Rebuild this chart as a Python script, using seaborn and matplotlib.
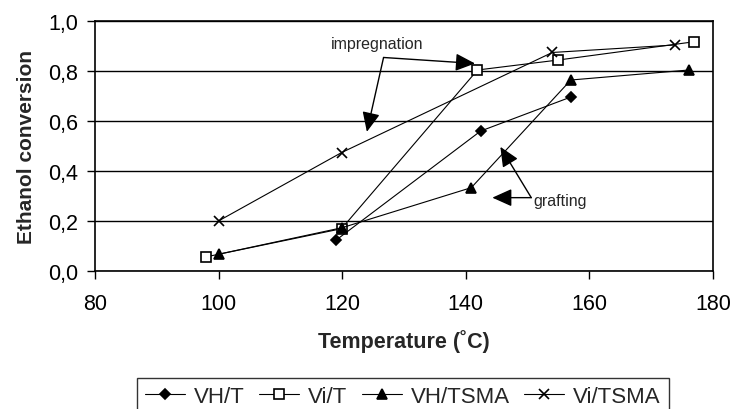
import matplotlib
matplotlib.use("Agg")
import matplotlib.pyplot as plt
import seaborn as sns
import pandas as pd
from matplotlib.ticker import FuncFormatter, MultipleLocator

sns.set_theme(style="white")
plt.rcParams['font.family'] = ['Liberation Sans', 'DejaVu Sans']

# Data
vh_t_x = [119.0, 142.4, 157.0]
vh_t_y = [0.123, 0.559, 0.695]
vi_t_x = [97.9, 119.9, 141.9, 155.0, 177.0]
vi_t_y = [0.056, 0.169, 0.803, 0.843, 0.916]
vh_tsma_x = [100.0, 120.0, 140.9, 157.0, 176.1]
vh_tsma_y = [0.067, 0.173, 0.333, 0.763, 0.803]
vi_tsma_x = [100.0, 119.9, 154.0, 173.9]
vi_tsma_y = [0.200, 0.473, 0.873, 0.903]

series_names = ["VH/T", "Vi/T", "VH/TSMA", "Vi/TSMA"]
xs = [vh_t_x, vi_t_x, vh_tsma_x, vi_tsma_x]
ys = [vh_t_y, vi_t_y, vh_tsma_y, vi_tsma_y]

frames = []
for name, x, y in zip(series_names, xs, ys):
    frames.append(pd.DataFrame({"T": x, "conv": y, "series": name}))
df = pd.concat(frames, ignore_index=True)

styles = {
    "VH/T": dict(marker="D", mfc="black", ms=6.5),
    "Vi/T": dict(marker="s", mfc="white", ms=8),
    "VH/TSMA": dict(marker="^", mfc="black", ms=8.5),
    "Vi/TSMA": dict(marker="x", mfc="black", ms=9),
}

fig = plt.figure(figsize=(7.36, 4.10), dpi=100)
ax = fig.add_axes([0.129, 0.3366, 0.8397, 0.6105])

for name in series_names:
    sub = df[df["series"] == name]
    st = styles[name]
    sns.lineplot(data=sub, x="T", y="conv", ax=ax, color="black", lw=0.8,
                 marker=st["marker"], markersize=st["ms"],
                 markerfacecolor=st["mfc"], markeredgecolor="black",
                 markeredgewidth=1.2, label=name, sort=False, legend=False)

ax.set_xlim(80, 180)
ax.set_ylim(0, 1.0)
ax.xaxis.set_major_locator(MultipleLocator(20))
ax.yaxis.set_major_locator(MultipleLocator(0.2))
ax.yaxis.set_major_formatter(FuncFormatter(lambda v, p: f"{v:.1f}".replace(".", ",")))
ax.grid(axis="y", color="black", lw=1.0)
ax.set_axisbelow(True)
for s in ax.spines.values():
    s.set_color("black")
    s.set_linewidth(1.2)
ax.tick_params(axis="both", direction="out", length=6, width=1, color="black",
               labelsize=15.5, labelcolor="black", bottom=True, left=True)
ax.tick_params(axis="x", pad=10)
ax.tick_params(axis="y", pad=6)
ax.set_xlabel("Temperature (˚C)", fontsize=15.5, fontweight="bold", labelpad=11)
ax.set_ylabel("Ethanol conversion", fontsize=15, fontweight="bold", labelpad=9)

arrow = dict(arrowstyle="-|>,head_length=1.0,head_width=0.45", color="black", lw=1.0,
             shrinkA=0, shrinkB=0)
ax.text(125.7, 0.909, "impregnation", fontsize=11.5, ha="center", va="center")
ax.annotate("", xy=(141.5, 0.829), xytext=(126.7, 0.853), arrowprops=arrow)
ax.annotate("", xy=(124.0, 0.556), xytext=(126.7, 0.853), arrowprops=arrow)
ax.text(151.0, 0.283, "grafting", fontsize=11.5, ha="left", va="center")
ax.annotate("", xy=(144.3, 0.293), xytext=(150.6, 0.293), arrowprops=arrow)
ax.annotate("", xy=(145.6, 0.496), xytext=(150.6, 0.293), arrowprops=arrow)

handles, labels = ax.get_legend_handles_labels()
for h in handles:
    h.set_markersize(h.get_markersize() * 0.85)
leg = fig.legend(handles, labels, loc="upper center", bbox_to_anchor=(0.5476, 0.0756),
                 ncol=4, frameon=True, fancybox=False, edgecolor="black",
                 fontsize=16, handlelength=1.8, handletextpad=0.4,
                 columnspacing=0.65, borderpad=0.35, borderaxespad=0)
leg.get_frame().set_linewidth(1.0)

fig.savefig("out.png", dpi=100)
